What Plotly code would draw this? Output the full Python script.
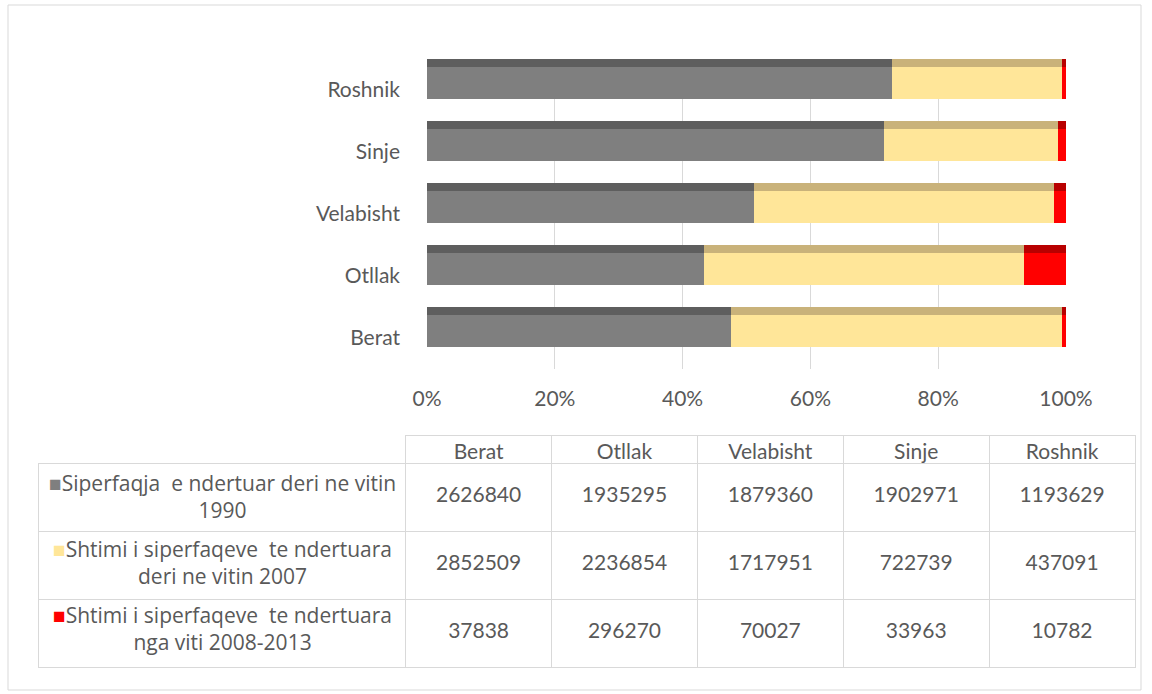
import plotly.graph_objects as go

# data
categories = ["Berat", "Otllak", "Velabisht", "Sinje", "Roshnik"]
built_1990 = [2626840, 1935295, 1879360, 1902971, 1193629]
added_2007 = [2852509, 2236854, 1717951, 722739, 437091]
added_2013 = [37838, 296270, 70027, 33963, 10782]

series_names = [
    "Siperfaqja  e ndertuar deri ne vitin<br>1990",
    "Shtimi i siperfaqeve  te ndertuara<br>deri ne vitin 2007",
    "Shtimi i siperfaqeve  te ndertuara<br>nga viti 2008-2013",
]
front_colors = ["#7f7f7f", "#ffe699", "#ff0000"]
top_colors = ["#5e5e5e", "#c9b27a", "#b80000"]
x_ticks = [0, 20, 40, 60, 80, 100]
x_tick_labels = ["0%", "20%", "40%", "60%", "80%", "100%"]

W, H = 1152, 694
font = "Lato, Open Sans, sans-serif"
txt = "#595959"
fs = 21

series = [built_1990, added_2007, added_2013]
totals = [sum(v) for v in zip(*series)]

fig = go.Figure()

# stacked 100% bars, with a darker strip on top to mimic the 3D look
base = [0.0] * len(categories)
for vals, fc, tc in zip(series, front_colors, top_colors):
    pct = [v / t * 100 for v, t in zip(vals, totals)]
    fig.add_trace(go.Bar(
        y=categories, x=pct, base=base, orientation="h",
        width=0.516, offset=-0.145, marker=dict(color=fc, line=dict(width=0)),
        showlegend=False, hoverinfo="skip",
    ))
    fig.add_trace(go.Bar(
        y=categories, x=pct, base=base, orientation="h",
        width=0.13, offset=0.371, marker=dict(color=tc, line=dict(width=0)),
        showlegend=False, hoverinfo="skip",
    ))
    base = [b + p for b, p in zip(base, pct)]

# table grid + column headers
n = len(categories)
blank = [[""] * len(series) for _ in range(n + 1)]
col_w = [368] + [146] * n
fig.add_trace(go.Table(
    domain=dict(x=[38 / W, 1135 / W], y=[1 - 668 / H, 1 - 435 / H]),
    columnwidth=col_w,
    header=dict(
        values=[""] + categories, height=28, align="center",
        fill_color="white",
        line=dict(color="#d9d9d9", width=[0] + [1] * n),
        font=dict(family=font, size=fs, color=txt),
    ),
    cells=dict(
        values=blank, height=68, align="center",
        fill_color="white", line=dict(color="#d9d9d9", width=1),
    ),
))

# the numbers, in a transparent copy of the table set a little lower so they sit mid-cell
clear = "rgba(0,0,0,0)"
columns = [["", "", ""]] + [[str(s[i]) for s in series] for i in range(n)]
fig.add_trace(go.Table(
    domain=dict(x=[38 / W, 1135 / W], y=[1 - 683 / H, 1 - 450 / H]),
    columnwidth=col_w,
    header=dict(
        values=[""] * (n + 1), height=28, fill_color=clear,
        line=dict(color=clear, width=0),
    ),
    cells=dict(
        values=columns, height=68, align="center",
        fill_color=clear, line=dict(color=clear, width=0),
        font=dict(family=font, size=fs, color=txt),
    ),
))

# row labels with legend keys
row_y = [496, 562, 628]
annotations = [
    dict(
        text=f"<span style='color:{c}'>■</span>{nm}",
        xref="paper", yref="paper", x=222 / W, y=1 - yy / H,
        xanchor="center", yanchor="middle", align="center", showarrow=False,
        font=dict(family="Open Sans, sans-serif", size=21, color=txt),
    )
    for c, nm, yy in zip(front_colors, series_names, row_y)
]

fig.update_layout(
    width=W, height=H,
    margin=dict(l=0, r=0, t=0, b=0, autoexpand=False),
    paper_bgcolor="white", plot_bgcolor="white",
    barmode="overlay", bargap=0,
    font=dict(family=font, size=fs, color=txt),
    xaxis=dict(
        domain=[427 / W, 1066 / W], range=[0, 100],
        tickvals=x_ticks, ticktext=x_tick_labels,
        showgrid=True, gridcolor="#d9d9d9", gridwidth=1,
        zeroline=False, showline=False, ticks="", automargin=False,
        ticklabelstandoff=15,
        tickfont=dict(family=font, size=fs, color=txt),
    ),
    yaxis=dict(
        domain=[1 - 369 / H, 1 - 59 / H],
        categoryorder="array", categoryarray=categories,
        range=[-0.5, 4.5], automargin=False,
        showgrid=False, zeroline=False, showline=False, ticks="",
        ticklabelstandoff=26,
        tickfont=dict(family=font, size=fs, color=txt),
    ),
    annotations=annotations,
    shapes=[dict(
        type="rect", xref="paper", yref="paper",
        x0=8 / W, x1=1141 / W, y0=1 - 690 / H, y1=1 - 5 / H,
        line=dict(color="#d9d9d9", width=1), layer="below",
    )],
)

fig.write_html(
    "out.html",
    config={"displayModeBar": False},
    post_script="document.body.style.margin='0';document.body.style.overflow='hidden';",
)
